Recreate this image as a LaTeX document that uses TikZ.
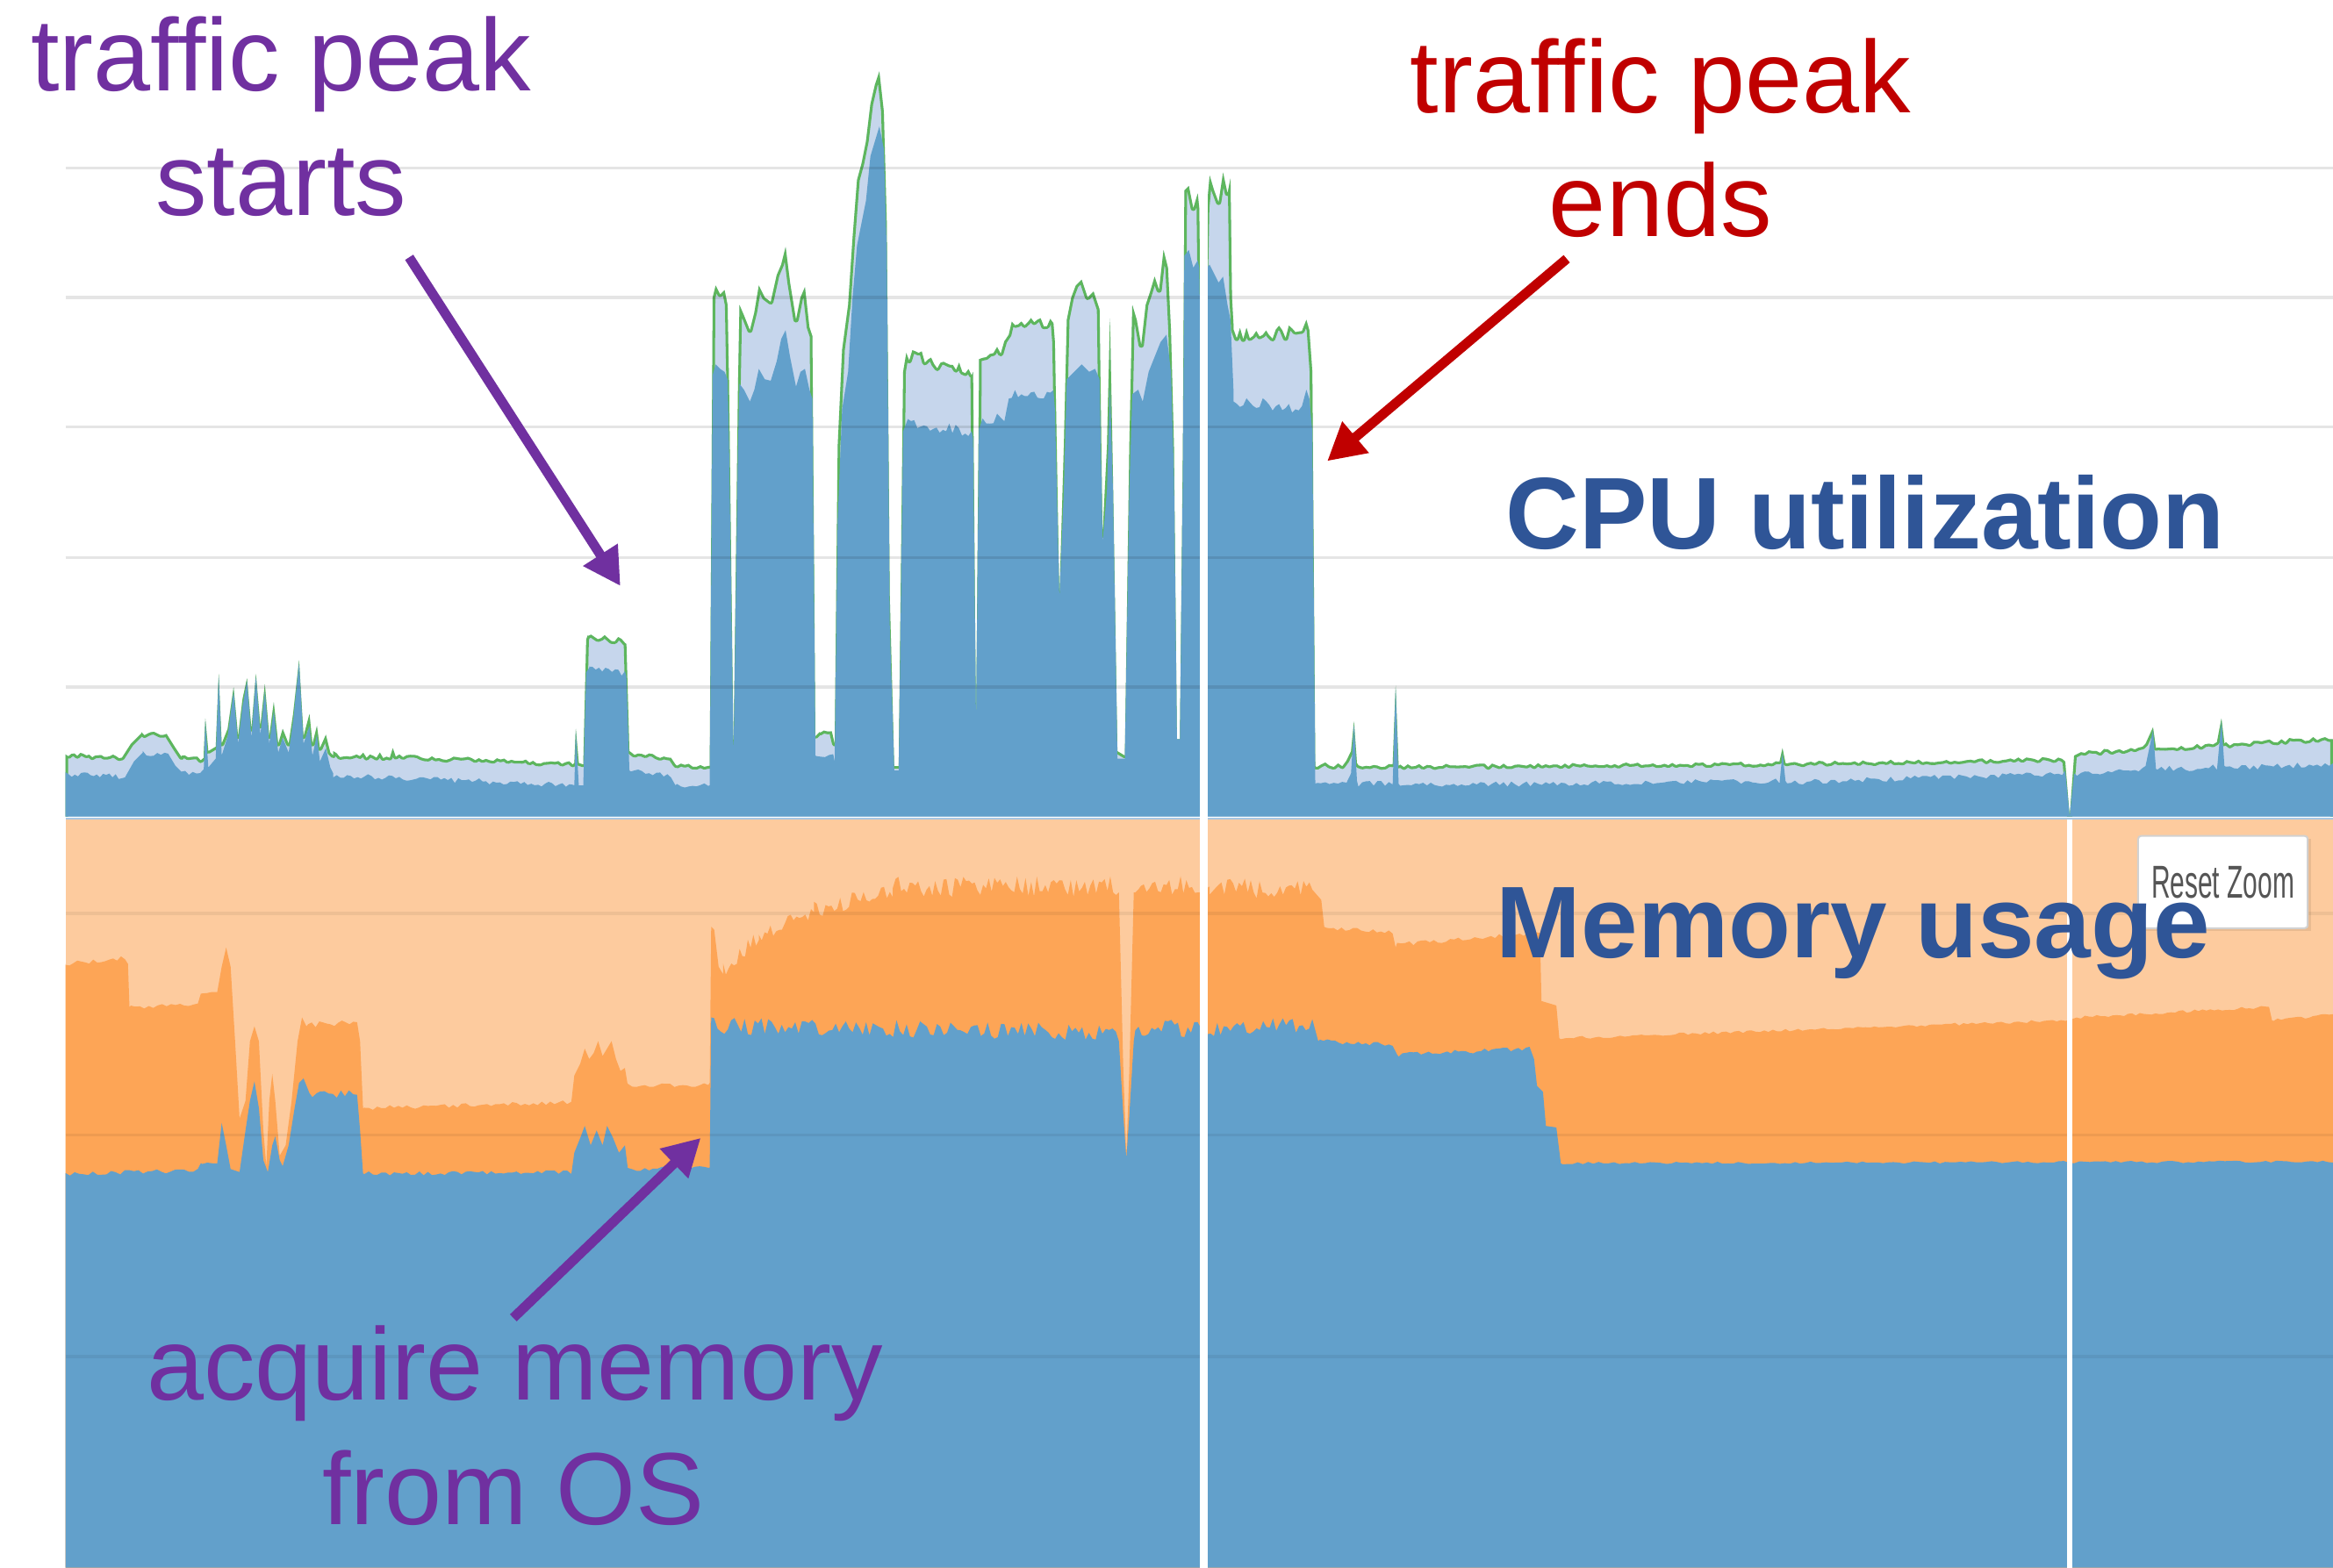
\documentclass[tikz,border=0pt]{standalone}
\usepackage{fontspec}
\setmainfont{Liberation Sans}
\usetikzlibrary{arrows.meta}

\definecolor{purp}{HTML}{7030A0}
\definecolor{redc}{HTML}{C00000}
\definecolor{titleblue}{HTML}{2F5597}
\definecolor{cpublue}{HTML}{62A0CB}
\definecolor{cpulight}{HTML}{C6D6EC}
\definecolor{cpugreen}{HTML}{5DB65D}
\definecolor{memlight}{HTML}{FDCB9E}
\definecolor{memorange}{HTML}{FDA556}
\definecolor{resettext}{HTML}{555555}

% noisy segment: from x=#1 to x=#2, level #3 -> #4, amplitude #5, #6 samples
\newcommand\nz[6]{-- plot[domain=#1:#2,samples=#6] (\x,{#3+(#4-#3)*(\x-#1)/(#2-#1)+#5*rand})}

\tikzset{
  lbl/.style={font=\fontsize{69}{83}\selectfont, inner sep=0pt, anchor=base},
  boldlbl/.style={font=\fontsize{68.5}{83}\selectfont\bfseries, inner sep=0pt, anchor=base, text=titleblue},
  gridline/.style={black, opacity=0.1, line width=2pt},
  memgrid/.style={black, opacity=0.06, line width=2pt},
  gap/.style={white, line width=5pt},
  callout/.style={line width=6.5pt, -{Triangle[length=25pt,width=26pt]}},
}

\begin{document}
\begin{tikzpicture}[x=1pt,y=-1pt]
\pgfmathsetseed{12}
\fill[white] (0,0) rectangle (1568,1054);
\useasboundingbox (0,0) rectangle (1568,1054);

\begin{scope}
\clip (44,0) rectangle (1568,1054);

% ---------- memory chart ----------
\fill[memlight] (44,550) rectangle (1568,1054);
\fill[memorange] (44,1054) -- (44,648) \nz{44}{84}{648}{644}{1.5}{16} -- (86,648) -- (87,677)
  \nz{88}{133}{677}{676}{1.5}{16} -- (135,668) \nz{136}{146}{668}{666}{1}{4}
  -- (149,650) -- (152,637) -- (155,650) -- (158,700) -- (161,752) -- (165,740) -- (168,700)
  -- (171,690) -- (174,700) -- (177,760) -- (179,784) -- (181,740) -- (183,722) -- (185,740)
  -- (188,777) -- (192,770) -- (196,740) -- (200,700) -- (203,684) -- (206,690)
  \nz{207}{240}{689}{687}{2}{14} -- (242,700) -- (244,745)
  \nz{245}{384}{745}{741}{1.5}{50} -- (386,723) -- (390,715) -- (393,705) -- (396,712)
  -- (399,708) -- (402,700) -- (405,710) -- (408,705) -- (411,700) -- (414,712) -- (417,720)
  -- (420,718) -- (422,730) \nz{422}{476}{730}{729}{1.5}{20} -- (477,728) -- (478,623)
  -- (480,625) -- (483,650) -- (486,655) \nz{486}{510}{652}{630}{5}{14}
  \nz{510}{547}{630}{612}{5}{20} \nz{547}{600}{612}{600}{6}{28}
  \nz{600}{750}{596}{596}{7}{80} -- (752,600) -- (755,720) -- (757,777) -- (759,720)
  -- (762,600) \nz{763}{803}{596}{596}{7}{22} -- (806,600) -- (813,596)
  \nz{813}{882}{596}{598}{7}{36} -- (888,605) -- (890,623) \nz{891}{936}{624}{627}{1.5}{18}
  -- (938,637) \nz{939}{1035}{635}{627}{1.5}{36} -- (1036,673) -- (1046,676) -- (1048,698)
  \nz{1049}{1388}{698}{686}{1}{120} -- (1390,686) -- (1396,684) \nz{1396}{1525}{684}{677}{1}{50}
  -- (1527,686) \nz{1528}{1568}{686}{682}{1}{16} -- (1568,1054) -- cycle;

\fill[cpublue] (44,1054) -- (44,789) \nz{44}{133}{789}{787}{1.5}{30} -- (135,782)
  \nz{136}{146}{782}{782}{1}{4} -- (149,755) -- (152,770) -- (155,786) -- (161,788)
  -- (165,760) -- (168,740) -- (171,727) -- (174,745) -- (177,780) -- (180,788) -- (183,770)
  -- (185,764) -- (188,780) -- (190,784) -- (194,770) -- (198,745) -- (201,728) -- (204,725)
  -- (208,735) \nz{210}{240}{735}{735}{3}{12} -- (242,760) -- (244,789)
  \nz{245}{384}{789}{788}{1.5}{50} -- (386,775) -- (390,765) -- (393,757) -- (397,770)
  -- (401,760) -- (405,770) -- (408,757) -- (412,765) -- (416,775) -- (420,770) -- (422,786)
  \nz{422}{476}{786}{785}{1.5}{20} -- (477,785) -- (478,684) \nz{480}{750}{690}{694}{6}{120}
  -- (752,700) -- (755,750) -- (757,779) -- (759,750) -- (762,700) \nz{763}{882}{692}{690}{6}{55}
  -- (886,700) \nz{887}{936}{700}{702}{1.5}{20} -- (939,709) \nz{940}{1028}{709}{705}{1.5}{36}
  -- (1031,712) -- (1033,730) -- (1037,734) -- (1039,757) -- (1046,758) -- (1049,782)
  \nz{1050}{1568}{782}{781}{0.8}{150} -- (1568,1054) -- cycle;

% ---------- CPU chart ----------
\path[save path=\cputop] (44,549) -- (44,507) \nz{44}{82}{507}{509}{1.5}{20}
  -- (88,500) -- (95,493) \nz{95}{112}{493}{493}{1.5}{9} -- (118,503) -- (122,509)
  \nz{122}{137}{509}{510}{1.5}{8}
  -- (137,505) -- (138,483) -- (140,505) -- (145,502) -- (147,453) -- (149,500) -- (153,490)
  -- (157,462) -- (160,495) -- (163,470) -- (166,456) -- (169,490) -- (172,453) -- (175,488)
  -- (178,460) -- (181,495) -- (184,472) -- (187,500) -- (190,490) -- (194,500) -- (197,480)
  -- (201,444) -- (204,495) -- (208,480) -- (210,500) -- (213,488) -- (215,503) -- (219,494)
  -- (222,506) -- (224,508) \nz{224}{262}{507}{508}{2}{18} -- (264,503)
  \nz{266}{385}{508}{513}{1.5}{50} -- (386,513) -- (387,490) -- (389,513) -- (392,514)
  -- (394,430) -- (395,427) \nz{395}{420}{427}{431}{2}{12} -- (421,433) -- (423,505)
  \nz{424}{451}{507}{509}{1.5}{12} -- (454,514) \nz{455}{476}{514}{515}{1}{9}
  -- (477,515) -- (479,200) -- (481,192) -- (484,198) -- (487,195) -- (489,205) -- (490,260)
  -- (493,508) -- (496,260) -- (497,205) -- (500,212) -- (504,222) -- (507,210) -- (510,192)
  -- (514,200) -- (518,203) -- (522,185) -- (525,178) -- (528,166) -- (531,190) -- (535,215)
  -- (538,200) -- (541,193) -- (544,220) -- (546,226) -- (548,495) -- (551,492)
  \nz{551}{559}{492}{492}{1}{4} -- (561,500) -- (563,300) -- (566,235) -- (570,205)
  -- (573,160) -- (576,121) -- (579,110) -- (582,95) -- (585,70) -- (588,57) -- (591,48)
  -- (594,75) -- (596,150) -- (598,400) -- (601,515) -- (604,515) -- (607,250) -- (609,238)
  \nz{609}{653}{238}{248}{5}{22} -- (654,250) -- (656,493) -- (658,250)
  \nz{658}{675}{240}{232}{5}{8} -- (678,225) \nz{680}{708}{215}{217}{4}{14} -- (709,230)
  -- (712,403) -- (715,300) -- (717,215) -- (720,200) -- (723,192) -- (727,188) -- (731,200)
  -- (735,196) -- (739,208) -- (741,360) -- (744,300) -- (746,214) -- (748,320) -- (751,505)
  -- (756,508) -- (759,300) -- (761,205) -- (764,215) -- (767,232) -- (770,205) -- (773,196)
  -- (776,186) -- (779,195) -- (782,168) -- (785,180) -- (787,222) -- (789,300) -- (791,497)
  -- (793,497) -- (795,300) -- (796,128) -- (799,125) -- (802,140) -- (805,130) -- (806,140)
  -- (808,300) -- (811,140) -- (813,118) -- (816,128) -- (819,136) -- (822,116) -- (825,130)
  -- (827,120) -- (828,200) -- (829,218) \nz{829}{875}{225}{222}{5}{22} -- (878,215)
  -- (880,222) -- (882,250) -- (884,515)
  \nz{885}{905}{515}{513}{2}{8} -- (908,505) -- (910,485) -- (912,513)
  \nz{913}{936}{515}{515}{1.5}{10} -- (938,461) -- (940,515) \nz{941}{1196}{515}{513}{1.2}{100}
  -- (1198,503) -- (1200,513) \nz{1201}{1386}{513}{510}{1.2}{70} -- (1388,512) -- (1391,549)
  -- (1394,508) \nz{1396}{1440}{506}{503}{1.5}{18} -- (1442,500) -- (1447,489) -- (1449,503)
  \nz{1450}{1490}{503}{500}{1.5}{16} -- (1493,483) -- (1495,500)
  \nz{1496}{1568}{500}{496}{1.5}{28} -- (1568,549);

\fill[cpulight, use path=\cputop];
% the green outline is kept inside the area so that it only shows along the top
\begin{scope}
  \path[clip, use path=\cputop];
  \draw[cpugreen, line width=3.6pt, line join=round, use path=\cputop];
\end{scope}

\fill[cpublue] (44,549) -- (44,521) \nz{44}{84}{521}{522}{2}{20} -- (90,512) -- (96,506)
  \nz{96}{113}{506}{507}{2}{8} -- (118,515) -- (122,519) \nz{122}{137}{519}{519}{2}{7}
  -- (137,516) -- (138,485) -- (140,516) -- (145,510) -- (147,455) -- (149,508) -- (153,495)
  -- (157,465) -- (160,500) -- (163,475) -- (166,458) -- (169,496) -- (172,455) -- (175,494)
  -- (178,465) -- (181,500) -- (184,478) -- (187,506) -- (190,496) -- (194,506) -- (197,485)
  -- (201,446) -- (204,500) -- (208,488) -- (210,508) -- (213,494) -- (215,512) -- (219,503)
  -- (222,516) -- (224,520) \nz{224}{385}{521}{528}{2}{70} -- (386,528) -- (387,492)
  -- (389,528) -- (392,528) -- (394,452) -- (396,449) \nz{396}{420}{449}{453}{2}{12}
  -- (421,455) -- (423,518) \nz{424}{451}{519}{521}{2}{12} -- (454,528)
  \nz{455}{476}{528}{528}{1.5}{9} -- (477,528) -- (479,252) -- (481,245) -- (484,248)
  -- (487,250) -- (489,255) -- (490,300) -- (493,510) -- (496,300) -- (497,258) -- (500,262)
  -- (504,270) -- (507,262) -- (510,248) -- (514,255) -- (518,256) -- (522,243) -- (525,228)
  -- (528,222) -- (531,240) -- (535,260) -- (538,250) -- (541,248) -- (544,262) -- (546,268)
  -- (548,508) \nz{549}{560}{508}{508}{1.5}{5} -- (561,512) -- (563,350) -- (566,275)
  -- (570,250) -- (573,200) -- (576,165) -- (579,150) -- (582,135) -- (585,105) -- (588,95)
  -- (591,85) -- (594,100) -- (596,170) -- (598,420) -- (601,518) -- (604,518) -- (607,290)
  \nz{608}{653}{285}{290}{4}{22} -- (654,295) -- (656,490) -- (658,285)
  \nz{658}{675}{285}{280}{4}{8} -- (678,268) \nz{680}{708}{265}{265}{3}{14} -- (709,275)
  -- (712,403) -- (715,330) -- (717,255) -- (722,250) -- (727,245) -- (732,250) -- (736,248)
  -- (739,255) -- (741,365) -- (744,330) -- (746,260) -- (748,330) -- (751,510) -- (756,510)
  -- (759,330) -- (761,265) -- (765,262) -- (768,270) -- (772,250) -- (776,240) -- (780,230)
  -- (784,225) -- (787,250) -- (789,320) -- (791,497) -- (793,497) -- (795,320) -- (796,172)
  -- (799,168) -- (802,180) -- (805,175) -- (806,180) -- (808,320) -- (811,180) -- (813,178)
  -- (816,184) -- (819,190) -- (822,186) -- (825,205) -- (827,215) -- (829,262)
  \nz{829}{875}{270}{274}{4}{22} -- (878,262) -- (880,268) -- (882,290) -- (884,527)
  \nz{885}{905}{527}{526}{2}{8} -- (908,520) -- (910,487) -- (912,525)
  \nz{913}{936}{527}{527}{2}{10} -- (938,463) -- (940,527) \nz{941}{1196}{528}{525}{1.8}{100}
  -- (1198,506) -- (1200,525) \nz{1201}{1386}{526}{520}{1.8}{70} -- (1388,518) -- (1391,549)
  -- (1394,520) \nz{1396}{1440}{520}{518}{2}{18} -- (1442,515) -- (1447,491) -- (1449,517)
  \nz{1450}{1490}{517}{516}{2}{16} -- (1493,485) -- (1495,515)
  \nz{1496}{1568}{516}{514}{2}{28} -- (1568,549) -- cycle;

% grid lines
\foreach \gy in {113,200,287,375,462}
  \draw[gridline] (44,\gy) -- (1568,\gy);
\foreach \gy in {614,763,912}
  \draw[memgrid] (44,\gy) -- (1568,\gy);

% boundary between the two charts
\draw[cpulight!70!cpublue, line width=1.5pt] (44,550.5) -- (1568,550.5);

% missing-data gaps
\draw[gap] (809,118) -- (809,1054);
\draw[gap, line width=4pt] (1391,551) -- (1391,1054);
\end{scope}

% Reset Zoom button
\fill[black, opacity=0.08] (1439,564) rectangle (1553,626);
\node[draw=black!18, fill=white, line width=1.2pt, rounded corners=2pt,
      minimum width=114pt, minimum height=62pt, inner sep=0pt] (reset) at (1494,593)
  {\textcolor{resettext}{\scalebox{0.57}[1]{\fontsize{31}{31}\selectfont Reset Zoom}}};

% series titles
\node[boldlbl] (cpu) at (1253.5,369) {CPU utilization};
\node[boldlbl] (mem) at (1245.5,644) {Memory usage};

% annotations
\node[lbl, text=purp] (tpsA) at (189,61) {traffic peak};
\node[lbl, text=purp] (tpsB) at (189,145) {starts};
\node[lbl, text=redc] (tpeA) at (1116,76) {traffic peak};
\node[lbl, text=redc] (tpeB) at (1116,159) {ends};
\node[lbl, text=purp] (acqA) at (346,941) {acquire memory};
\node[lbl, text=purp] (acqB) at (345,1025) {from OS};

\coordinate (tpsTail) at (275,173);
\coordinate (tpsTip) at (417,394);
\coordinate (tpeTail) at (1053,174);
\coordinate (tpeTip) at (892,310);
\coordinate (acqTail) at (345,886);
\coordinate (acqTip) at (471,765);

\draw[callout, purp] (tpsTail) -- (tpsTip);
\draw[callout, redc] (tpeTail) -- (tpeTip);
\draw[callout, purp] (acqTail) -- (acqTip);
\end{tikzpicture}
\end{document}
